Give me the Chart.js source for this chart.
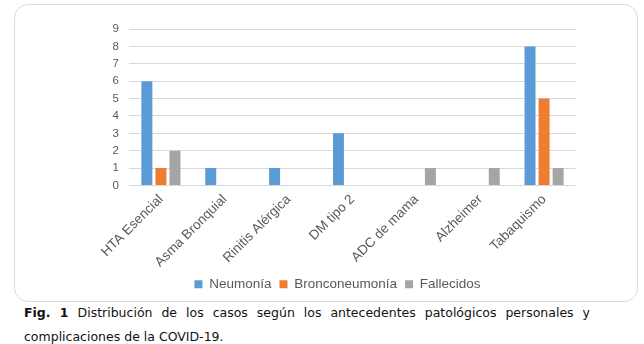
<!DOCTYPE html>
<html>
<head>
<meta charset="utf-8">
<script src="https://cdn.jsdelivr.net/npm/chart.js@4.4.0/dist/chart.umd.min.js"></script>
<style>
  body { margin: 0; background: #fff; width: 644px; height: 344px; position: relative; overflow: hidden; }
  #box { position: absolute; left: 14px; top: 4px; width: 622px; height: 296px; border: 1px solid #d9d9d9; border-radius: 14px; }
  #box canvas { display: block; }
  #caption { position: absolute; left: 24px; top: 301px; width: 566px; font-family: "DejaVu Sans", Verdana, sans-serif; font-size: 12.5px; color: #111; line-height: 24px; }
  #caption .l1 { display: block; text-align: justify; text-align-last: justify; white-space: nowrap; }
</style>
</head>
<body>
<div id="box"><canvas id="chart_antecedentes" width="622" height="296"></canvas></div>
<div id="caption"><span class="l1"><b>Fig. 1</b> Distribución de los casos según los antecedentes patológicos personales y</span>complicaciones de la COVID-19.</div>
<script>
var categorias = ['HTA Esencial', 'Asma Bronquial', 'Rinitis Alérgica', 'DM tipo 2', 'ADC de mama', 'Alzheimer', 'Tabaquismo'];
var neumonia = [6, 1, 1, 3, 0, 0, 8];
var bronconeumonia = [1, 0, 0, 0, 0, 0, 5];
var fallecidos = [2, 0, 0, 0, 1, 1, 1];

var chart_antecedentes = new Chart(document.getElementById('chart_antecedentes'), {
    type: 'bar',
    data: {
        labels: categorias,
        datasets: [
            { label: 'Neumonía', data: neumonia, backgroundColor: '#5B9BD5' },
            { label: 'Bronconeumonía', data: bronconeumonia, backgroundColor: '#ED7D31' },
            { label: 'Fallecidos', data: fallecidos, backgroundColor: '#A5A5A5' }
        ]
    },
    options: {
        animation: false,
        responsive: false,
        categoryPercentage: 0.66,
        barPercentage: 0.78,
        layout: { padding: { left: 84, right: 61, top: 24, bottom: 0 } },
        plugins: {
            legend: {
                position: 'bottom',
                labels: {
                    boxWidth: 8, boxHeight: 8, padding: 8,
                    color: '#595959',
                    font: { family: 'Liberation Sans, Arial, sans-serif', size: 13.5 }
                }
            },
            tooltip: { enabled: false }
        },
        scales: {
            x: {
                grid: { display: false, drawTicks: false },
                border: { display: false },
                ticks: {
                    minRotation: 45, maxRotation: 45, padding: 6,
                    color: '#595959',
                    font: { family: 'Liberation Sans, Arial, sans-serif', size: 13.5 }
                },
                afterFit: function (scale) { scale.height = 84; }
            },
            y: {
                min: 0, max: 9,
                grid: { color: '#d9d9d9', drawTicks: false },
                border: { display: false },
                ticks: {
                    stepSize: 1, padding: 10,
                    color: '#595959',
                    font: { family: 'Liberation Sans, Arial, sans-serif', size: 11.5 }
                },
                afterFit: function (scale) { scale.width = 30; }
            }
        }
    }
});
</script>
</body>
</html>
